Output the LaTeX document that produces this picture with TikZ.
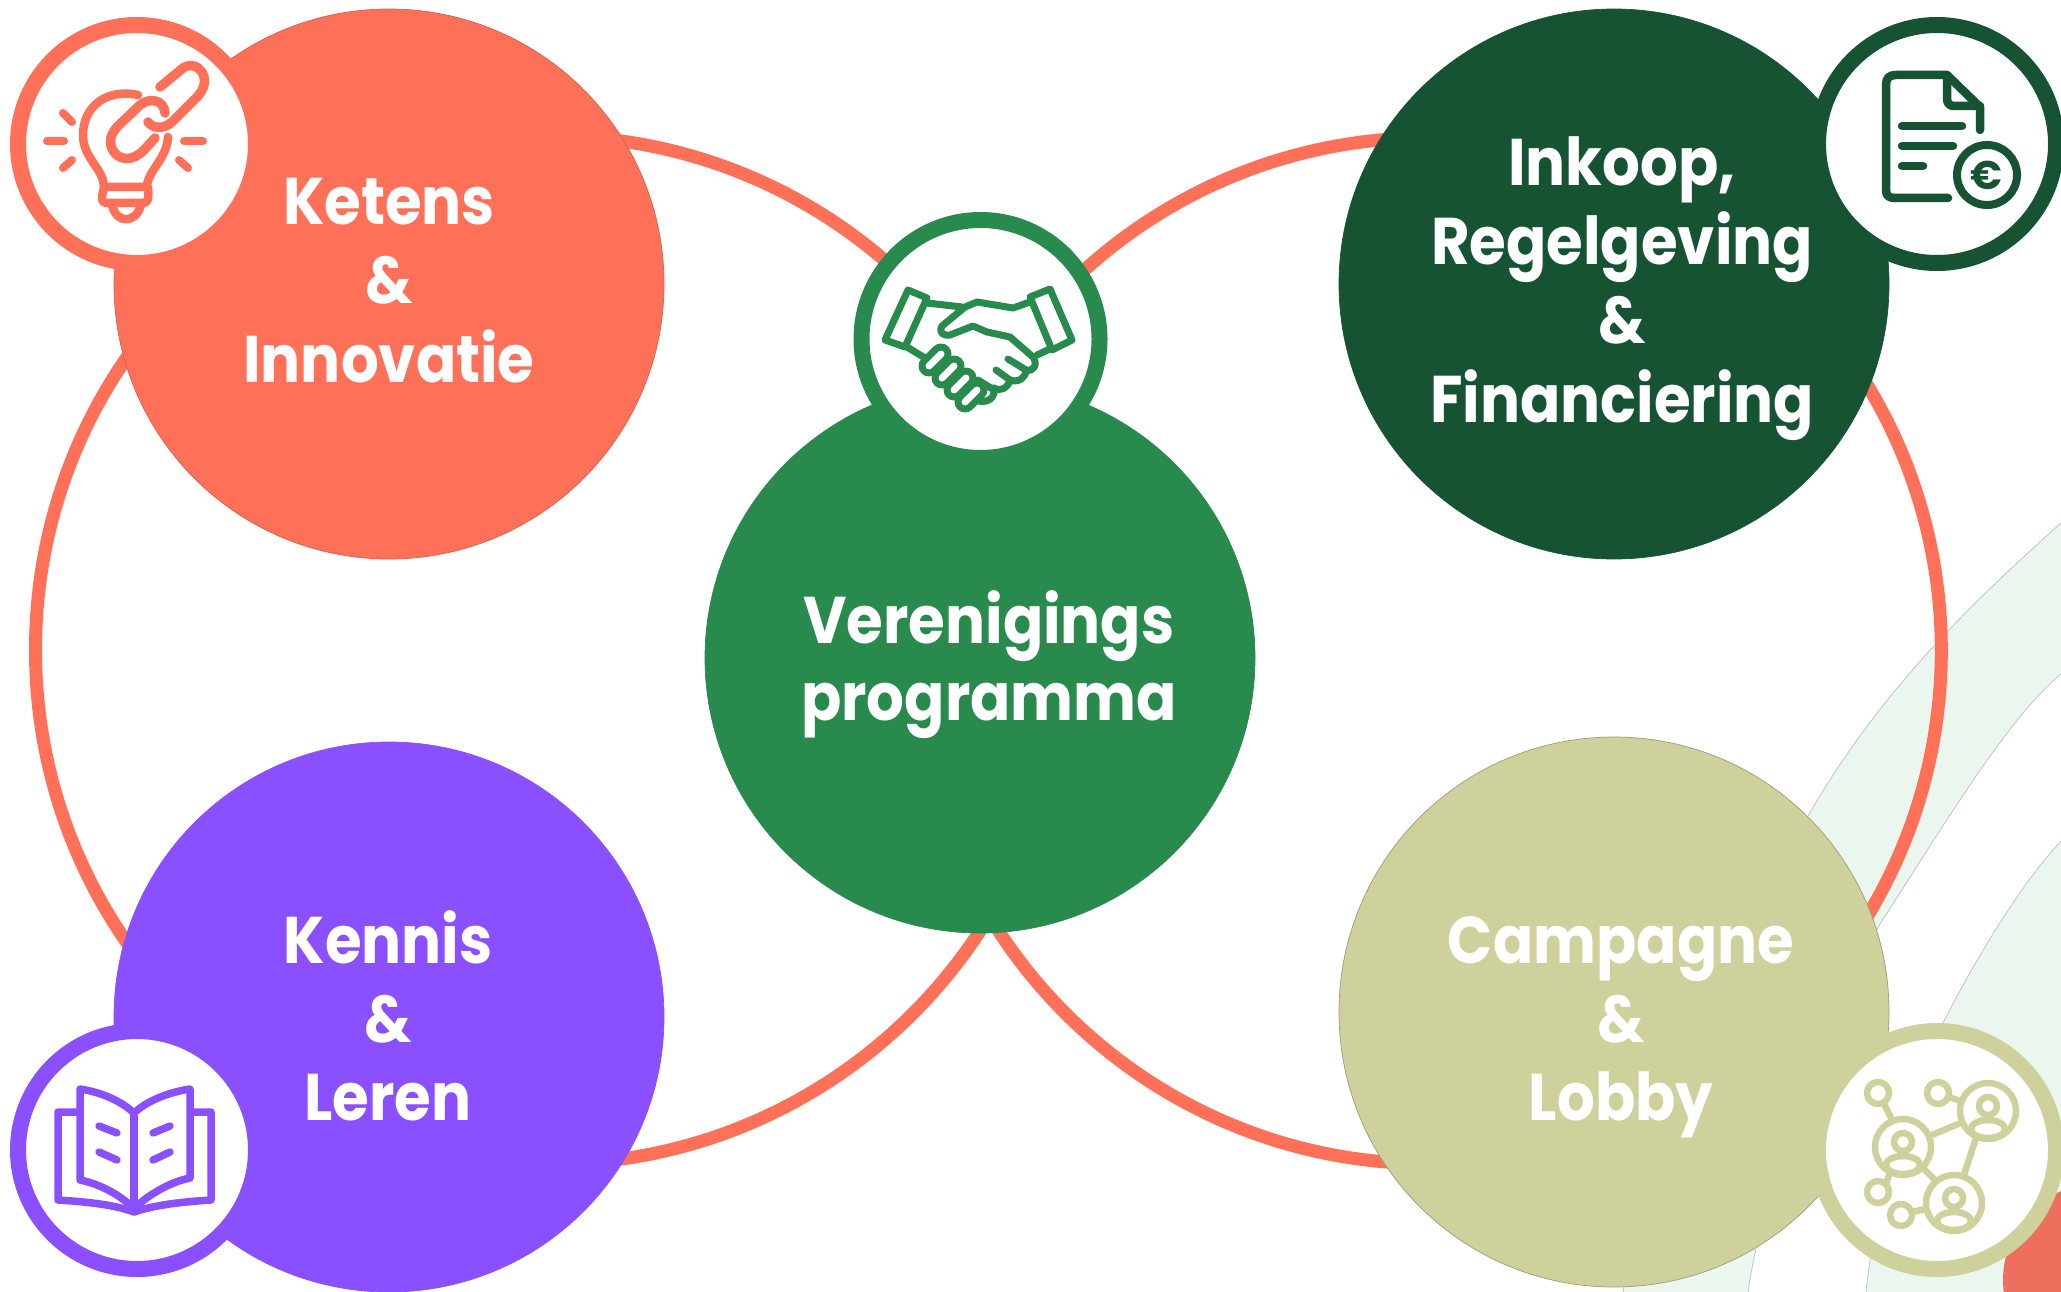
\documentclass[tikz,border=0pt]{standalone}
\usepackage{fontspec}
\setmainfont{Poppins}[UprightFont=* Bold,FakeStretch=0.9]
\newfontfamily\eurofont{Poppins}[UprightFont=* Bold]
\definecolor{coral}{HTML}{FF7059}
\definecolor{dkgreen}{HTML}{165333}
\definecolor{midgreen}{HTML}{288A4C}
\definecolor{violet}{HTML}{8A4FFF}
\definecolor{khaki}{HTML}{CFD19D}
\definecolor{palegreen}{HTML}{EBF6EE}
\definecolor{cornerred}{HTML}{EE6F5E}
\definecolor{edgegray}{HTML}{BDBDBD}
\tikzset{
  x=1pt,y=-1pt,
  bigc/.style={circle,minimum size=550pt,inner sep=0pt,outer sep=0pt,line width=0.7pt},
  smallc/.style={circle,minimum size=238pt,inner sep=0pt,outer sep=0pt,fill=white,line width=16pt},
  lab/.style={anchor=base,text=white,inner sep=0pt,font=\fontsize{66}{79}\selectfont},
  ico/.style={line cap=round,line join=round,line width=8.5pt},
  ringline/.style={draw=coral,line width=13pt},
  bandedge/.style={draw=edgegray,line width=0.7pt}
}
\begin{document}
\begin{tikzpicture}
\useasboundingbox (0,0) rectangle (2061,1292);
\clip (0,0) rectangle (2061,1292);
% background bands
\fill[palegreen] (2061,523) .. controls (1975,600) and (1880,690) .. (1808,816)
  .. controls (1730,950) and (1640,1130) .. (1623,1292) -- (1748,1292)
  .. controls (1752,1265) and (1775,1120) .. (1878,927)
  .. controls (1935,840) and (2005,720) .. (2061,674) -- cycle;
\fill[palegreen] (2061,841) .. controls (2020,885) and (1975,960) .. (1943,1023)
  .. controls (1895,1120) and (1872,1230) .. (1866,1292) -- (2061,1292) -- cycle;
\draw[bandedge] (2061,523) .. controls (1975,600) and (1880,690) .. (1808,816)
  .. controls (1730,950) and (1640,1130) .. (1623,1292);
\draw[bandedge] (1748,1292) .. controls (1752,1265) and (1775,1120) .. (1878,927)
  .. controls (1935,840) and (2005,720) .. (2061,674);
\draw[bandedge] (2061,841) .. controls (2020,885) and (1975,960) .. (1943,1023)
  .. controls (1895,1120) and (1872,1230) .. (1866,1292);
\fill[cornerred] (2100,1280) circle[radius=97pt];
% rings
\draw[ringline] (549.5,650) circle[radius=514pt];
\draw[ringline] (1428.3,650.7) circle[radius=513pt];
% large circles
\node[bigc,fill=coral,draw=coral!85!black] (ketens) at (389,284) {};
\node[bigc,fill=dkgreen,draw=dkgreen] (inkoop) at (1614,284) {};
\node[bigc,fill=midgreen,draw=midgreen] (vereniging) at (980,658) {};
\node[bigc,fill=violet,draw=violet] (kennis) at (389,1017) {};
\node[bigc,fill=khaki,draw=khaki!75!black] (campagne) at (1614,1012) {};
% small circles
\node[smallc,draw=coral] (bulb) at (137,144) {};
\node[smallc,draw=dkgreen] (doc) at (1937,144) {};
\node[smallc,draw=midgreen] (shake) at (980.5,339) {};
\node[smallc,draw=violet] (book) at (137,1150) {};
\node[smallc,draw=khaki] (net) at (1937,1150) {};
% labels
\node[lab] (k1) at (389,225) {Ketens};
\node[lab] (k2) at (389,303) {\&};
\node[lab] (k3) at (389,382) {Innovatie};
\node[lab] (i1) at (1622,186) {Inkoop,};
\node[lab] (i2) at (1622,264) {Regelgeving};
\node[lab] (i3) at (1622,343) {\&};
\node[lab] (i4) at (1622,422) {Financiering};
\node[lab] (v1) at (989,643) {Verenigings};
\node[lab] (v2) at (989,720) {programma};
\node[lab] (l1) at (388,963) {Kennis};
\node[lab] (l2) at (388,1042) {\&};
\node[lab] (l3) at (388,1120) {Leren};
\node[lab] (c1) at (1621,963) {Campagne};
\node[lab] (c2) at (1621,1042) {\&};
\node[lab] (c3) at (1621,1120) {Lobby};
% bulb icon
\begin{scope}[ico,draw=coral]
\draw[line width=8pt] (47,141)--(64,141) (63,113)--(72,122) (63,168)--(72,160) (184,141)--(203,141) (179,160)--(188,168);
\draw (138,95) .. controls (105,88) and (83,108) .. (83,135) .. controls (83,155) and (98,165) .. (103,180)
   -- (104,187) -- (146,187) -- (149,178) .. controls (155,165) and (167,155) .. (168,137);
\draw (104,187) -- (102,197) .. controls (102,202) and (104,203) .. (108,203) -- (142,203) .. controls (148,203) and (149,200) .. (148,187);
\draw (112,205) .. controls (116,224) and (136,224) .. (141,205);
\draw[line width=9.5pt] (155,138) -- (144,150) .. controls (132,162) and (120,160) .. (114,152) .. controls (108,144) and (110,134) .. (118,126)
   -- (140,105) .. controls (150,97) and (164,100) .. (165,113);
\draw[line width=9.5pt] (160,87) -- (183,68) .. controls (192,62) and (202,68) .. (204,77) .. controls (206,85) and (202,91) .. (198,96)
   -- (172,122) .. controls (163,130) and (152,128) .. (148,122);
\end{scope}
% document icon
\begin{scope}[ico,draw=dkgreen]
\draw (1980,130) -- (1980,107) -- (1947,75) -- (1896,75) .. controls (1889,75) and (1886,78) .. (1886,85)
   -- (1886,190) .. controls (1886,196) and (1889,198) .. (1895,198) -- (1948,198);
\draw (1947,75) -- (1947,98) .. controls (1947,103) and (1949,106) .. (1954,106) -- (1980,106);
\draw (1902,126)--(1962,126) (1902,146)--(1953,146) (1902,166)--(1923,166);
\draw[line width=8pt] (1987,175) circle[radius=30pt];
\end{scope}
\node[text=dkgreen,inner sep=0pt,font=\eurofont\fontsize{40}{40}\selectfont] (euro) at (1986,175) {€};
% handshake icon
\begin{scope}[ico,draw=midgreen,line width=7pt]
\draw (908,290)--(927,298)--(905,347)--(885,340)--cycle;
\draw (1050,289)--(1030,297)--(1052,350)--(1072,340)--cycle;
\draw (927,303)--(962,307);
\draw (907,347)--(925,358);
\draw (1030,302)--(1013,308)--(977,302)--(965,307)--(942,326) .. controls (938,333) and (944,336) .. (950,335)
   -- (973,326)--(987,332)--(1010,337)--(1033,357) .. controls (1038,364) and (1034,372) .. (1026,370) -- (1008,359);
\draw (1037,355)--(1052,348);
\draw (1026,370) .. controls (1026,378) and (1018,383) .. (1010,380) -- (996,370);
\draw (1010,380) .. controls (1008,388) and (1000,392) .. (994,388);
\draw (994,388) .. controls (996,400) and (984,404) .. (976,400);
\draw (978,380) -- (994,390);
\foreach \a/\b in {935/360,948/372,960/384,971/396}{
  \draw[line width=21pt,line cap=round] (\a+6,\b-6)--(\a-6,\b+6);
}
\foreach \a/\b in {935/360,948/372,960/384,971/396}{
  \draw[white,line width=7pt,line cap=round] (\a+6,\b-6)--(\a-6,\b+6);
}
\end{scope}
% book icon
\begin{scope}[ico,draw=violet,line width=7.5pt]
\draw (134,1113) -- (134,1208);
\draw (134,1113) .. controls (120,1100) and (100,1092) .. (80,1089) -- (80,1180) .. controls (100,1184) and (120,1195) .. (132,1207);
\draw (134,1113) .. controls (148,1100) and (170,1092) .. (190,1089) -- (190,1178) .. controls (170,1182) and (148,1195) .. (136,1207);
\draw (78,1112) -- (58,1112) -- (58,1200) .. controls (90,1202) and (115,1205) .. (134,1212) .. controls (155,1205) and (180,1202) .. (211,1200) -- (211,1112) -- (192,1112);
\draw (99,1126) -- (117,1133) (99,1152) -- (117,1160) (153,1133) -- (170,1126) (153,1160) -- (170,1152);
\end{scope}
% network icon
\begin{scope}[ico,draw=khaki,line width=6.5pt]
\foreach \a/\b in {1903/1147,1988/1111,1954/1203}{
  \begin{scope}
    \draw (\a,\b) circle[radius=28pt];
    \draw (\a,\b-5) circle[radius=9pt];
    \clip (\a,\b) circle[radius=28pt];
    \draw (\a,\b+18) ellipse[x radius=17pt,y radius=9pt];
  \end{scope}
}
\foreach \a/\b in {1878/1093,1938/1093,1878/1192,1901/1215}{
  \draw (\a,\b) circle[radius=11pt];
}
\draw (1884,1104)--(1892,1120) (1949,1097)--(1960,1101) (1932,1135)--(1958,1124)
      (1976,1138)--(1964,1175) (1920,1165)--(1935,1180) (1886,1184)--(1890,1172) (1912,1212)--(1926,1209);
\end{scope}
\end{tikzpicture}
\end{document}
